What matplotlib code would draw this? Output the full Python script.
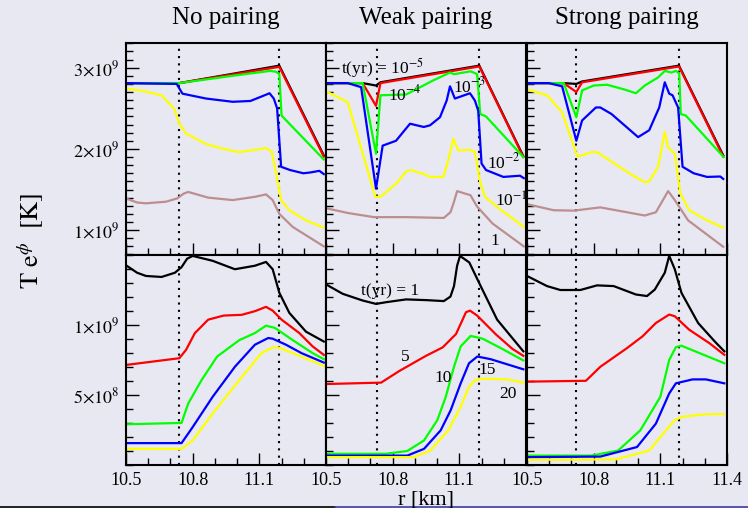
import matplotlib

matplotlib.use("Agg")
import matplotlib.pyplot as plt
from matplotlib.lines import Line2D
from matplotlib.ticker import MultipleLocator

plt.rcParams.update({
    "font.family": "Liberation Serif",
    "mathtext.fontset": "stix",
    "font.size": 13,
})

BG = "#e8e8f2"
COLORS = ["black", "#ff0000", "#00ff00", "#0000ff", "#ffff00", "#bc8f8f"]
TITLES = ["No pairing", "Weak pairing", "Strong pairing"]

# (r [km], T e^phi [1e9 K])
# --- top row: early times t = 1e-5 ... 1 yr
NO_TOP_K = [(10.5, 2.81), (10.74, 2.81), (11.19, 3.025), (11.39, 1.92)]
NO_TOP_R = [(10.5, 2.81), (10.74, 2.81), (11.19, 3.01), (11.39, 1.905)]
NO_TOP_G = [(10.5, 2.81), (10.74, 2.81), (10.98, 2.90), (11.148, 2.96), (11.175, 2.95),
            (11.19, 2.92), (11.2, 2.41), (11.39, 1.87)]
NO_TOP_B = [(10.5, 2.81), (10.728, 2.80), (10.754, 2.68), (10.86, 2.62), (10.98, 2.58),
            (11.06, 2.59), (11.146, 2.685), (11.165, 2.62), (11.18, 2.50), (11.198, 1.78),
            (11.238, 1.74), (11.298, 1.70), (11.33, 1.71), (11.37, 1.73), (11.39, 1.69)]
NO_TOP_Y = [(10.5, 2.74), (10.563, 2.72), (10.66, 2.66), (10.718, 2.49), (10.74, 2.31),
            (10.77, 2.19), (10.86, 2.06), (10.94, 2.0), (11.01, 1.96), (11.13, 2.01),
            (11.157, 1.96), (11.175, 1.70), (11.198, 1.37), (11.235, 1.245), (11.31, 1.12),
            (11.39, 1.03)]
NO_TOP_BR = [(10.5, 1.39), (10.55, 1.34), (10.59, 1.33), (10.68, 1.35), (10.73, 1.39),
             (10.76, 1.45), (10.78, 1.47), (10.87, 1.40), (10.98, 1.37), (11.08, 1.41),
             (11.13, 1.44), (11.16, 1.37), (11.19, 1.20), (11.25, 1.04), (11.39, 0.80)]

WEAK_TOP_K = [(10.5, 2.81), (10.665, 2.81), (10.725, 2.78), (10.745, 2.82), (11.19, 3.025),
              (11.388, 1.91)]
WEAK_TOP_R = [(10.5, 2.81), (10.665, 2.81), (10.725, 2.53), (10.745, 2.81), (11.19, 3.015),
              (11.388, 1.90)]
WEAK_TOP_G = [(10.5, 2.81), (10.665, 2.81), (10.725, 1.94), (10.745, 2.66), (10.86, 2.67),
              (10.91, 2.74), (10.98, 2.84), (11.058, 2.94), (11.076, 2.92), (11.151, 2.955),
              (11.18, 2.92), (11.194, 2.43), (11.22, 2.40), (11.388, 1.90)]
WEAK_TOP_B = [(10.5, 2.81), (10.598, 2.81), (10.658, 2.76), (10.725, 1.51), (10.755, 2.04),
              (10.815, 2.10), (10.878, 2.31), (10.94, 2.27), (10.968, 2.29), (11.013, 2.39),
              (11.043, 2.595), (11.058, 2.77), (11.08, 2.62), (11.148, 2.685), (11.17, 2.595),
              (11.185, 2.47), (11.2, 1.82), (11.22, 1.74), (11.298, 1.655), (11.373, 1.67),
              (11.39, 1.64)]
WEAK_TOP_Y = [(10.5, 2.71), (10.598, 2.575), (10.722, 1.41), (10.745, 1.41), (10.815, 1.57),
              (10.86, 1.72), (10.88, 1.74), (10.94, 1.69), (10.968, 1.655), (11.028, 1.655),
              (11.05, 1.86), (11.073, 2.125), (11.095, 1.98), (11.148, 1.99), (11.17, 1.96),
              (11.193, 1.60), (11.215, 1.41), (11.268, 1.29), (11.39, 1.04)]
WEAK_TOP_BR = [(10.5, 1.27), (10.6, 1.21), (10.716, 1.16), (10.866, 1.16), (11.03, 1.15),
               (11.06, 1.22), (11.075, 1.34), (11.09, 1.48), (11.15, 1.43), (11.18, 1.29),
               (11.25, 1.08), (11.39, 0.80)]

STRONG_TOP_K = [(10.5, 2.81), (10.665, 2.81), (10.722, 2.80), (10.748, 2.83), (11.184, 3.025),
                (11.383, 1.92)]
STRONG_TOP_R = [(10.5, 2.81), (10.665, 2.81), (10.722, 2.70), (10.748, 2.82), (11.184, 3.015),
                (11.383, 1.905)]
STRONG_TOP_G = [(10.5, 2.81), (10.665, 2.81), (10.722, 2.39), (10.748, 2.72), (10.80, 2.78),
                (10.86, 2.79), (10.94, 2.73), (10.99, 2.685), (11.03, 2.78), (11.09, 2.88),
                (11.12, 2.96), (11.15, 2.94), (11.17, 2.96), (11.185, 2.93), (11.192, 2.43),
                (11.215, 2.41), (11.385, 1.90)]
STRONG_TOP_B = [(10.5, 2.81), (10.598, 2.81), (10.658, 2.77), (10.722, 2.10), (10.748, 2.35),
                (10.81, 2.51), (10.83, 2.51), (10.88, 2.43), (11.0, 2.145), (11.05, 2.23),
                (11.095, 2.51), (11.12, 2.82), (11.14, 2.68), (11.155, 2.66), (11.18, 2.51),
                (11.2, 1.78), (11.25, 1.70), (11.31, 1.655), (11.37, 1.66), (11.383, 1.63)]
STRONG_TOP_Y = [(10.5, 2.73), (10.59, 2.66), (10.658, 2.45), (10.72, 1.96), (10.725, 1.91),
                (10.748, 1.92), (10.79, 1.96), (10.815, 1.96), (10.86, 1.88), (10.96, 1.70),
                (11.03, 1.59), (11.05, 1.60), (11.09, 1.78), (11.12, 2.21), (11.135, 2.02),
                (11.165, 1.94), (11.19, 1.45), (11.23, 1.245), (11.31, 1.12), (11.383, 1.03)]
STRONG_TOP_BR = [(10.5, 1.32), (10.62, 1.245), (10.71, 1.24), (10.83, 1.28), (11.03, 1.18),
                 (11.08, 1.22), (11.135, 1.48), (11.165, 1.37), (11.225, 1.12), (11.383, 0.795)]

# --- bottom row: late times t = 1 ... 20 yr
NO_BOT_K = [(10.5, 1.423), (10.55, 1.37), (10.59, 1.347), (10.66, 1.34), (10.72, 1.37),
            (10.75, 1.41), (10.775, 1.47), (10.80, 1.49), (10.89, 1.455), (10.99, 1.395),
            (11.08, 1.42), (11.13, 1.447), (11.16, 1.395), (11.19, 1.227), (11.235, 1.084),
            (11.31, 0.95), (11.39, 0.88)]
NO_BOT_R = [(10.5, 0.713), (10.74, 0.761), (10.77, 0.82), (10.81, 0.94), (10.87, 1.036),
            (10.94, 1.065), (11.02, 1.07), (11.08, 1.096), (11.13, 1.127), (11.16, 1.10),
            (11.20, 1.036), (11.28, 0.94), (11.34, 0.845), (11.39, 0.785)]
NO_BOT_G = [(10.5, 0.29), (10.75, 0.30), (10.78, 0.438), (10.84, 0.605), (10.91, 0.773),
            (11.01, 0.89), (11.08, 0.94), (11.13, 0.993), (11.17, 0.977), (11.25, 0.89),
            (11.34, 0.797), (11.39, 0.754)]
NO_BOT_B = [(10.5, 0.156), (10.75, 0.156), (10.80, 0.27), (10.89, 0.486), (10.99, 0.70),
            (11.08, 0.857), (11.14, 0.905), (11.16, 0.90), (11.22, 0.857), (11.29, 0.797),
            (11.39, 0.73)]
NO_BOT_Y = [(10.5, 0.115), (10.75, 0.115), (10.80, 0.175), (10.89, 0.367), (11.01, 0.605),
            (11.11, 0.797), (11.16, 0.838), (11.19, 0.835), (11.27, 0.785), (11.39, 0.706)]

WEAK_BOT_K = [(10.5, 1.287), (10.575, 1.22), (10.665, 1.172), (10.725, 1.148), (10.77, 1.16),
              (10.86, 1.18), (10.95, 1.175), (11.03, 1.168), (11.06, 1.2), (11.076, 1.275),
              (11.09, 1.42), (11.103, 1.49), (11.145, 1.443), (11.196, 1.275), (11.27, 1.036),
              (11.345, 0.892), (11.388, 0.81)]
WEAK_BOT_R = [(10.5, 0.577), (10.748, 0.587), (10.83, 0.67), (10.95, 0.778), (11.025, 0.838),
              (11.085, 0.933), (11.13, 1.089), (11.148, 1.10), (11.18, 1.065), (11.265, 0.93),
              (11.34, 0.826), (11.388, 0.778)]
WEAK_BOT_G = [(10.5, 0.08), (10.77, 0.08), (10.866, 0.10), (10.941, 0.175), (11.001, 0.32),
              (11.039, 0.486), (11.076, 0.70), (11.106, 0.845), (11.151, 0.92), (11.205, 0.90),
              (11.29, 0.83), (11.388, 0.745)]
WEAK_BOT_B = [(10.5, 0.067), (10.866, 0.067), (10.941, 0.115), (11.016, 0.247), (11.061, 0.39),
              (11.106, 0.582), (11.1435, 0.725), (11.181, 0.773), (11.241, 0.754),
              (11.388, 0.682)]
WEAK_BOT_Y = [(10.5, 0.056), (10.896, 0.056), (10.97, 0.103), (11.05, 0.247), (11.106, 0.415),
              (11.1435, 0.558), (11.173, 0.606), (11.21, 0.615), (11.316, 0.61),
              (11.388, 0.587)]

STRONG_BOT_K = [(10.5, 1.347), (10.59, 1.275), (10.65, 1.247), (10.74, 1.247), (10.815, 1.28),
                (10.89, 1.275), (10.99, 1.215), (11.04, 1.204), (11.075, 1.25), (11.12, 1.37),
                (11.14, 1.49), (11.165, 1.395), (11.195, 1.227), (11.27, 1.012),
                (11.345, 0.88), (11.388, 0.81)]
STRONG_BOT_R = [(10.5, 0.594), (10.765, 0.60), (10.83, 0.70), (10.95, 0.833), (11.02, 0.917),
                (11.08, 1.012), (11.14, 1.072), (11.165, 1.06), (11.23, 0.964), (11.32, 0.869),
                (11.388, 0.785)]
STRONG_BOT_G = [(10.5, 0.067), (10.79, 0.067), (10.91, 0.103), (11.01, 0.247), (11.1, 0.486),
                (11.14, 0.749), (11.17, 0.84), (11.195, 0.85), (11.388, 0.725)]
STRONG_BOT_B = [(10.5, 0.056), (10.83, 0.06), (10.995, 0.128), (11.08, 0.295), (11.14, 0.51),
                (11.17, 0.582), (11.245, 0.61), (11.305, 0.61), (11.388, 0.582)]
STRONG_BOT_Y = [(10.5, 0.037), (10.9, 0.04), (11.05, 0.103), (11.125, 0.247), (11.165, 0.32),
                (11.2, 0.344), (11.305, 0.362), (11.388, 0.362)]

TOP_ROW = [
    [NO_TOP_K, NO_TOP_R, NO_TOP_G, NO_TOP_B, NO_TOP_Y, NO_TOP_BR],
    [WEAK_TOP_K, WEAK_TOP_R, WEAK_TOP_G, WEAK_TOP_B, WEAK_TOP_Y, WEAK_TOP_BR],
    [STRONG_TOP_K, STRONG_TOP_R, STRONG_TOP_G, STRONG_TOP_B, STRONG_TOP_Y, STRONG_TOP_BR],
]
BOT_ROW = [
    [NO_BOT_K, NO_BOT_R, NO_BOT_G, NO_BOT_B, NO_BOT_Y],
    [WEAK_BOT_K, WEAK_BOT_R, WEAK_BOT_G, WEAK_BOT_B, WEAK_BOT_Y],
    [STRONG_BOT_K, STRONG_BOT_R, STRONG_BOT_G, STRONG_BOT_B, STRONG_BOT_Y],
]

# crust-core / drip boundaries (dotted verticals), per panel
BOUNDS = [(10.74, 11.19), (10.73, 11.19), (10.72, 11.185)]

# time labels in the weak-pairing panels: (text, r, T [1e9 K])
TOP_LABELS = [
    (r"t(yr) = 10$^{-5}$", 10.568, 2.92),
    (r"10$^{-4}$", 10.78, 2.595),
    (r"10$^{-3}$", 11.073, 2.69),
    (r"10$^{-2}$", 11.223, 1.757),
    (r"10$^{-1}$", 11.26, 1.286),
    ("1", 11.238, 0.816),
]
BOT_LABELS = [
    ("t(yr) = 1", 10.6575, 1.213),
    ("5", 10.8375, 0.742),
    ("10", 10.987, 0.591),
    ("15", 11.187, 0.646),
    ("20", 11.28, 0.479),
]

W, H = 748, 508
fig = plt.figure(figsize=(W / 100, H / 100), dpi=100)
fig.patch.set_facecolor(BG)

LEFTS = [126, 326, 527]
ROWS = [(43.3, 254.5), (254.5, 465)]


def style_axes(ax, col, row):
    ax.set_facecolor(BG)
    for sp in ax.spines.values():
        sp.set_linewidth(1.5)
    ax.set_xlim(10.5, 11.4)
    ax.set_xticks([10.5, 10.8, 11.1, 11.4])
    ax.xaxis.set_minor_locator(MultipleLocator(0.1))
    ax.tick_params(which="both", direction="in", top=False, right=False,
                   labelsize=13, pad=5, width=1)
    ax.tick_params(which="major", length=9)
    ax.tick_params(which="minor", length=5)
    if row == 0:
        ax.set_ylim(0.7e9, 3.3e9)
        ax.set_yticks([1e9, 2e9, 3e9])
        ax.set_yticklabels([r"$1{\times}10^{9}$", r"$2{\times}10^{9}$", r"$3{\times}10^{9}$"])
        ax.tick_params(labelbottom=False)
    else:
        ax.set_ylim(0, 1.5e9)
        ax.set_yticks([5e8, 1e9])
        ax.set_yticklabels([r"$5{\times}10^{8}$", r"$1{\times}10^{9}$"])
        if col < 2:
            ax.set_xticklabels(["10.5", "10.8", "11.1", ""])
        else:
            ax.set_xticklabels(["10.5", "10.8", "11.1", "11.4"])
    ax.yaxis.set_minor_locator(MultipleLocator(1e8))
    if col > 0:
        ax.tick_params(labelleft=False)


for row, data in enumerate([TOP_ROW, BOT_ROW]):
    top, bot = ROWS[row]
    for col in range(3):
        ax = fig.add_axes([LEFTS[col] / W, 1 - bot / H, 200 / W, (bot - top) / H])
        style_axes(ax, col, row)
        for r0 in BOUNDS[col]:
            ax.axvline(r0, color="black", ls=(0, (1, 2.5)), lw=1.5, zorder=1)
        for pts, c in zip(data[col], COLORS):
            r = [p[0] for p in pts]
            t = [p[1] * 1e9 for p in pts]
            ax.plot(r, t, color=c, lw=1.6, zorder=2)
        if col == 1:
            labels = TOP_LABELS if row == 0 else BOT_LABELS
            for txt, r0, t0 in labels:
                ax.text(r0, t0 * 1e9, txt, fontsize=12.5, ha="left", va="baseline", zorder=3)
        if row == 0:
            fig.text((LEFTS[col] + 100) / W, 1 - 18 / H, TITLES[col],
                     fontsize=18, ha="center", va="center")

fig.text(30 / W, 1 - 241 / H, r"$\mathrm{T\ e}^{\phi}\ \ \mathrm{[K]}$",
         fontsize=19, rotation=90, ha="center", va="center")
fig.text(426 / W, 1 - 504 / H, "r [km]", fontsize=16, ha="center", va="baseline")

# window border strip along the very bottom of the screenshot
fig.add_artist(Line2D([0, 335 / W], [1.0 / H, 1.0 / H], color="black", lw=1.2,
                      transform=fig.transFigure))
fig.add_artist(Line2D([335 / W, 1], [1.0 / H, 1.0 / H], color="#3c3ca8", lw=1.2,
                      transform=fig.transFigure))

fig.savefig("out.png", dpi=100, facecolor=BG)
